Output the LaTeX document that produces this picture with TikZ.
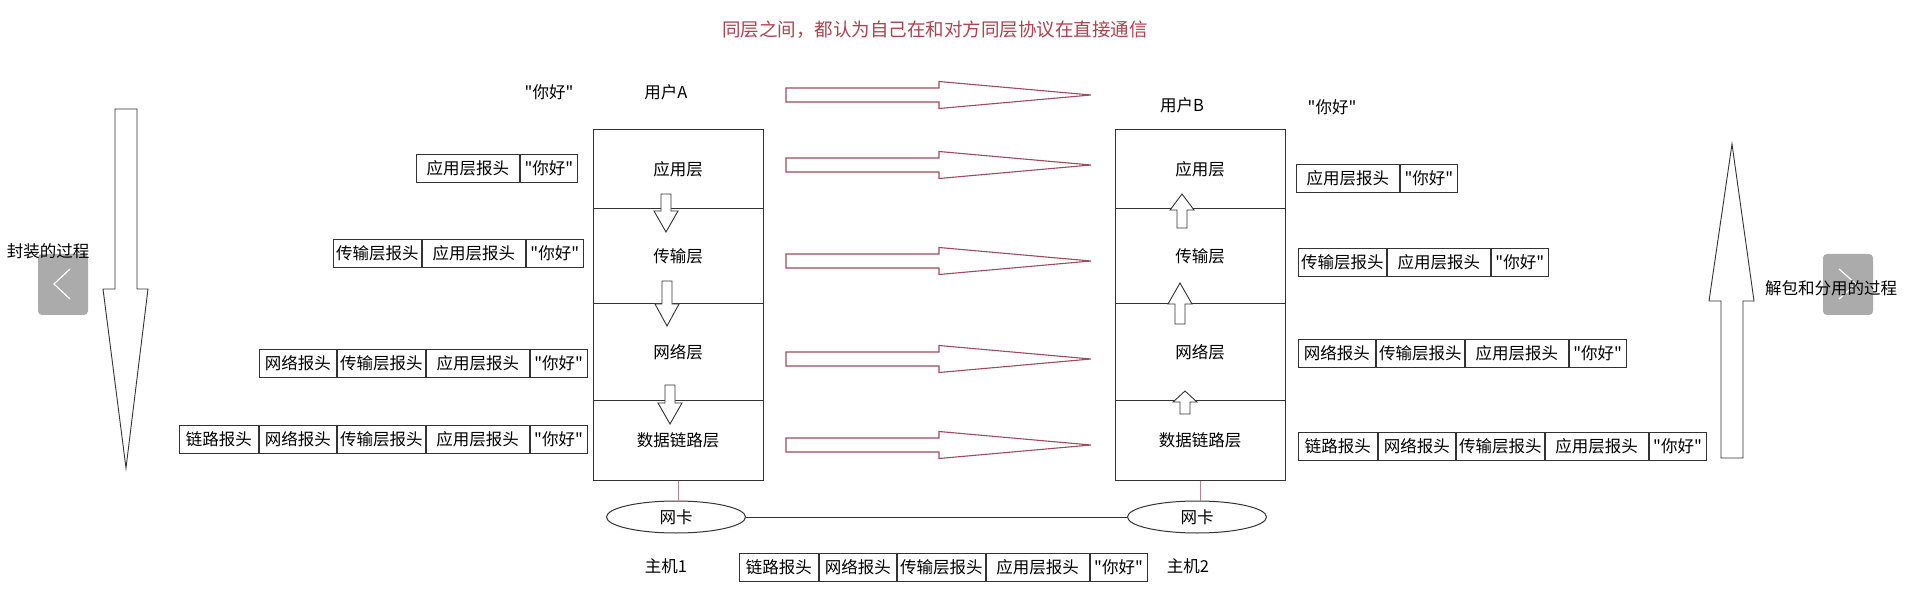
\documentclass[tikz,border=0pt]{standalone}
\usepackage{fontspec}
\setmainfont{Noto Sans CJK SC}[Ligatures=TeXOff]
\usetikzlibrary{positioning, shapes.geometric}
\definecolor{cred}{HTML}{B0424F}
\definecolor{cpeer}{HTML}{A04A5C}
\definecolor{cline}{HTML}{333333}
\definecolor{cbtn}{HTML}{ABABAB}
\tikzset{
  every picture/.style={line width=1pt},
  layer/.style={draw=cline, minimum width=170, inner sep=0pt},
  hdr/.style={draw=cline, line width=0.9pt, minimum height=28, inner sep=0pt},
  lk/.style={hdr, minimum width=79},
  nw/.style={hdr, minimum width=77},
  tp/.style={hdr, minimum width=88},
  ap/.style={hdr, minimum width=103},
  hi/.style={hdr, minimum width=57},
  nic/.style={ellipse, draw=cline, minimum width=139, minimum height=32, inner sep=0pt},
  peer/.style={draw=cpeer, line width=1.1pt, fill=white},
  blk/.style={draw=cline, fill=white, line width=0.9pt},
  btn/.style={fill=cbtn, rounded corners=4pt},
  title/.style={text=cred, font=\fontsize{18.5}{22}\selectfont},
}

\begin{document}
\begin{tikzpicture}[x=1pt, y=-1pt, font=\fontsize{16.5}{20}\selectfont]
  \useasboundingbox[fill=white] (0,0) rectangle (1906,601);
  \node[title] (ttl) at (935,30) {同层之间，都认为自己在和对方同层协议在直接通信};
  % the two protocol stacks
  \foreach \n/\t/\y/\h in {1/应用层/169.5/79, 2/传输层/256.5/95, 3/网络层/352.5/97, 4/数据链路层/440.5/79} {
    \node[layer, minimum height=\h] (A\n) at (678,\y) {\t};
    \node[layer, minimum height=\h] (B\n) at (1200,\y) {\t};
  }
  \foreach \cx/\s/\b/\t in {666/194/211/232, 667/281/304/326, 670/385/403/424, 1182/228/210/194, 1180/324/304/283, 1185/414/402/391}
    \draw[blk] (\cx-5,\s) -- (\cx-5,\b) -- (\cx-12,\b) -- (\cx,\t) -- (\cx+12,\b) -- (\cx+5,\b) -- (\cx+5,\s) -- cycle;
  % peer to peer arrows
  \foreach \y in {95,165,261,359,445}
    \draw[peer] (786,\y-7) -- (939,\y-7) -- (939,\y-13.5) -- (1091,\y) -- (939,\y+13.5) -- (939,\y+7) -- (786,\y+7) -- cycle;
  \node (usrA) at (666,92) {用户A};
  \node (msgA) at (549,92) {"你好"};
  \node (usrB) at (1182,105) {用户B};
  \node (msgB) at (1332,107) {"你好"};
  % network cards
  \node[nic] (nicA) at (676,517) {网卡};
  \node[nic] (nicB) at (1197,517) {网卡};
  \draw[cline] (nicA) -- (nicB);
  \draw[cpeer!70, line width=0.8pt] (A4.south) -- (A4.south |- nicA.north);
  \draw[cpeer!70, line width=0.8pt] (B4.south) -- (B4.south |- nicB.north);
  \node (hostA) at (666,566) {主机1};
  \node (hostB) at (1188,566) {主机2};
  % encapsulation / decapsulation
  \fill[btn] (38,254) rectangle (88,315);
  \draw[white, line width=1.2pt] (70,269) -- (54,284) -- (70,299);
  \fill[btn] (1823,254) rectangle (1873,315);
  \draw[white, line width=1.2pt] (1839,269) -- (1856,284) -- (1839,299);
  \draw[blk] (115,109) -- (137,109) -- (137,289) -- (148,289) -- (126,468) -- (103,289) -- (115,289) -- cycle;
  \draw[blk] (1721,458) -- (1743,458) -- (1743,301) -- (1754,301) -- (1732,144) -- (1709,301) -- (1721,301) -- cycle;
  \node (enc) at (48,251) {封装的过程};
  \node (dec) at (1831,288) {解包和分用的过程};
  % sender side packets
  \node[ap, anchor=west] (la1) at (416,168) {应用层报头};
  \node[hi, right=0pt of la1] (la1m) {"你好"};
  \node[tp, anchor=west] (lt2) at (333,253) {传输层报头};
  \node[ap, right=0pt of lt2] (la2) {应用层报头};
  \node[hi, right=0pt of la2] (la2m) {"你好"};
  \node[nw, anchor=west] (ln3) at (259,363) {网络报头};
  \node[tp, right=0pt of ln3] (lt3) {传输层报头};
  \node[ap, right=0pt of lt3] (la3) {应用层报头};
  \node[hi, right=0pt of la3] (la3m) {"你好"};
  \node[lk, anchor=west] (ll4) at (179,439) {链路报头};
  \node[nw, right=0pt of ll4] (ln4) {网络报头};
  \node[tp, right=0pt of ln4] (lt4) {传输层报头};
  \node[ap, right=0pt of lt4] (la4) {应用层报头};
  \node[hi, right=0pt of la4] (la4m) {"你好"};
  % receiver side packets
  \node[ap, anchor=west] (ra1) at (1296,178) {应用层报头};
  \node[hi, right=0pt of ra1] (ra1m) {"你好"};
  \node[tp, anchor=west] (rt2) at (1298,262) {传输层报头};
  \node[ap, right=0pt of rt2] (ra2) {应用层报头};
  \node[hi, right=0pt of ra2] (ra2m) {"你好"};
  \node[nw, anchor=west] (rn3) at (1298,353) {网络报头};
  \node[tp, right=0pt of rn3] (rt3) {传输层报头};
  \node[ap, right=0pt of rt3] (ra3) {应用层报头};
  \node[hi, right=0pt of ra3] (ra3m) {"你好"};
  \node[lk, anchor=west] (rl4) at (1298,446) {链路报头};
  \node[nw, right=0pt of rl4] (rn4) {网络报头};
  \node[tp, right=0pt of rn4] (rt4) {传输层报头};
  \node[ap, right=0pt of rt4] (ra4) {应用层报头};
  \node[hi, right=0pt of ra4] (ra4m) {"你好"};
  % on the wire
  \node[lk, anchor=west] (wl) at (739,567) {链路报头};
  \node[nw, right=0pt of wl] (wn) {网络报头};
  \node[tp, right=0pt of wn] (wt) {传输层报头};
  \node[ap, right=0pt of wt] (wa) {应用层报头};
  \node[hi, right=0pt of wa] (wm) {"你好"};
\end{tikzpicture}
\end{document}
